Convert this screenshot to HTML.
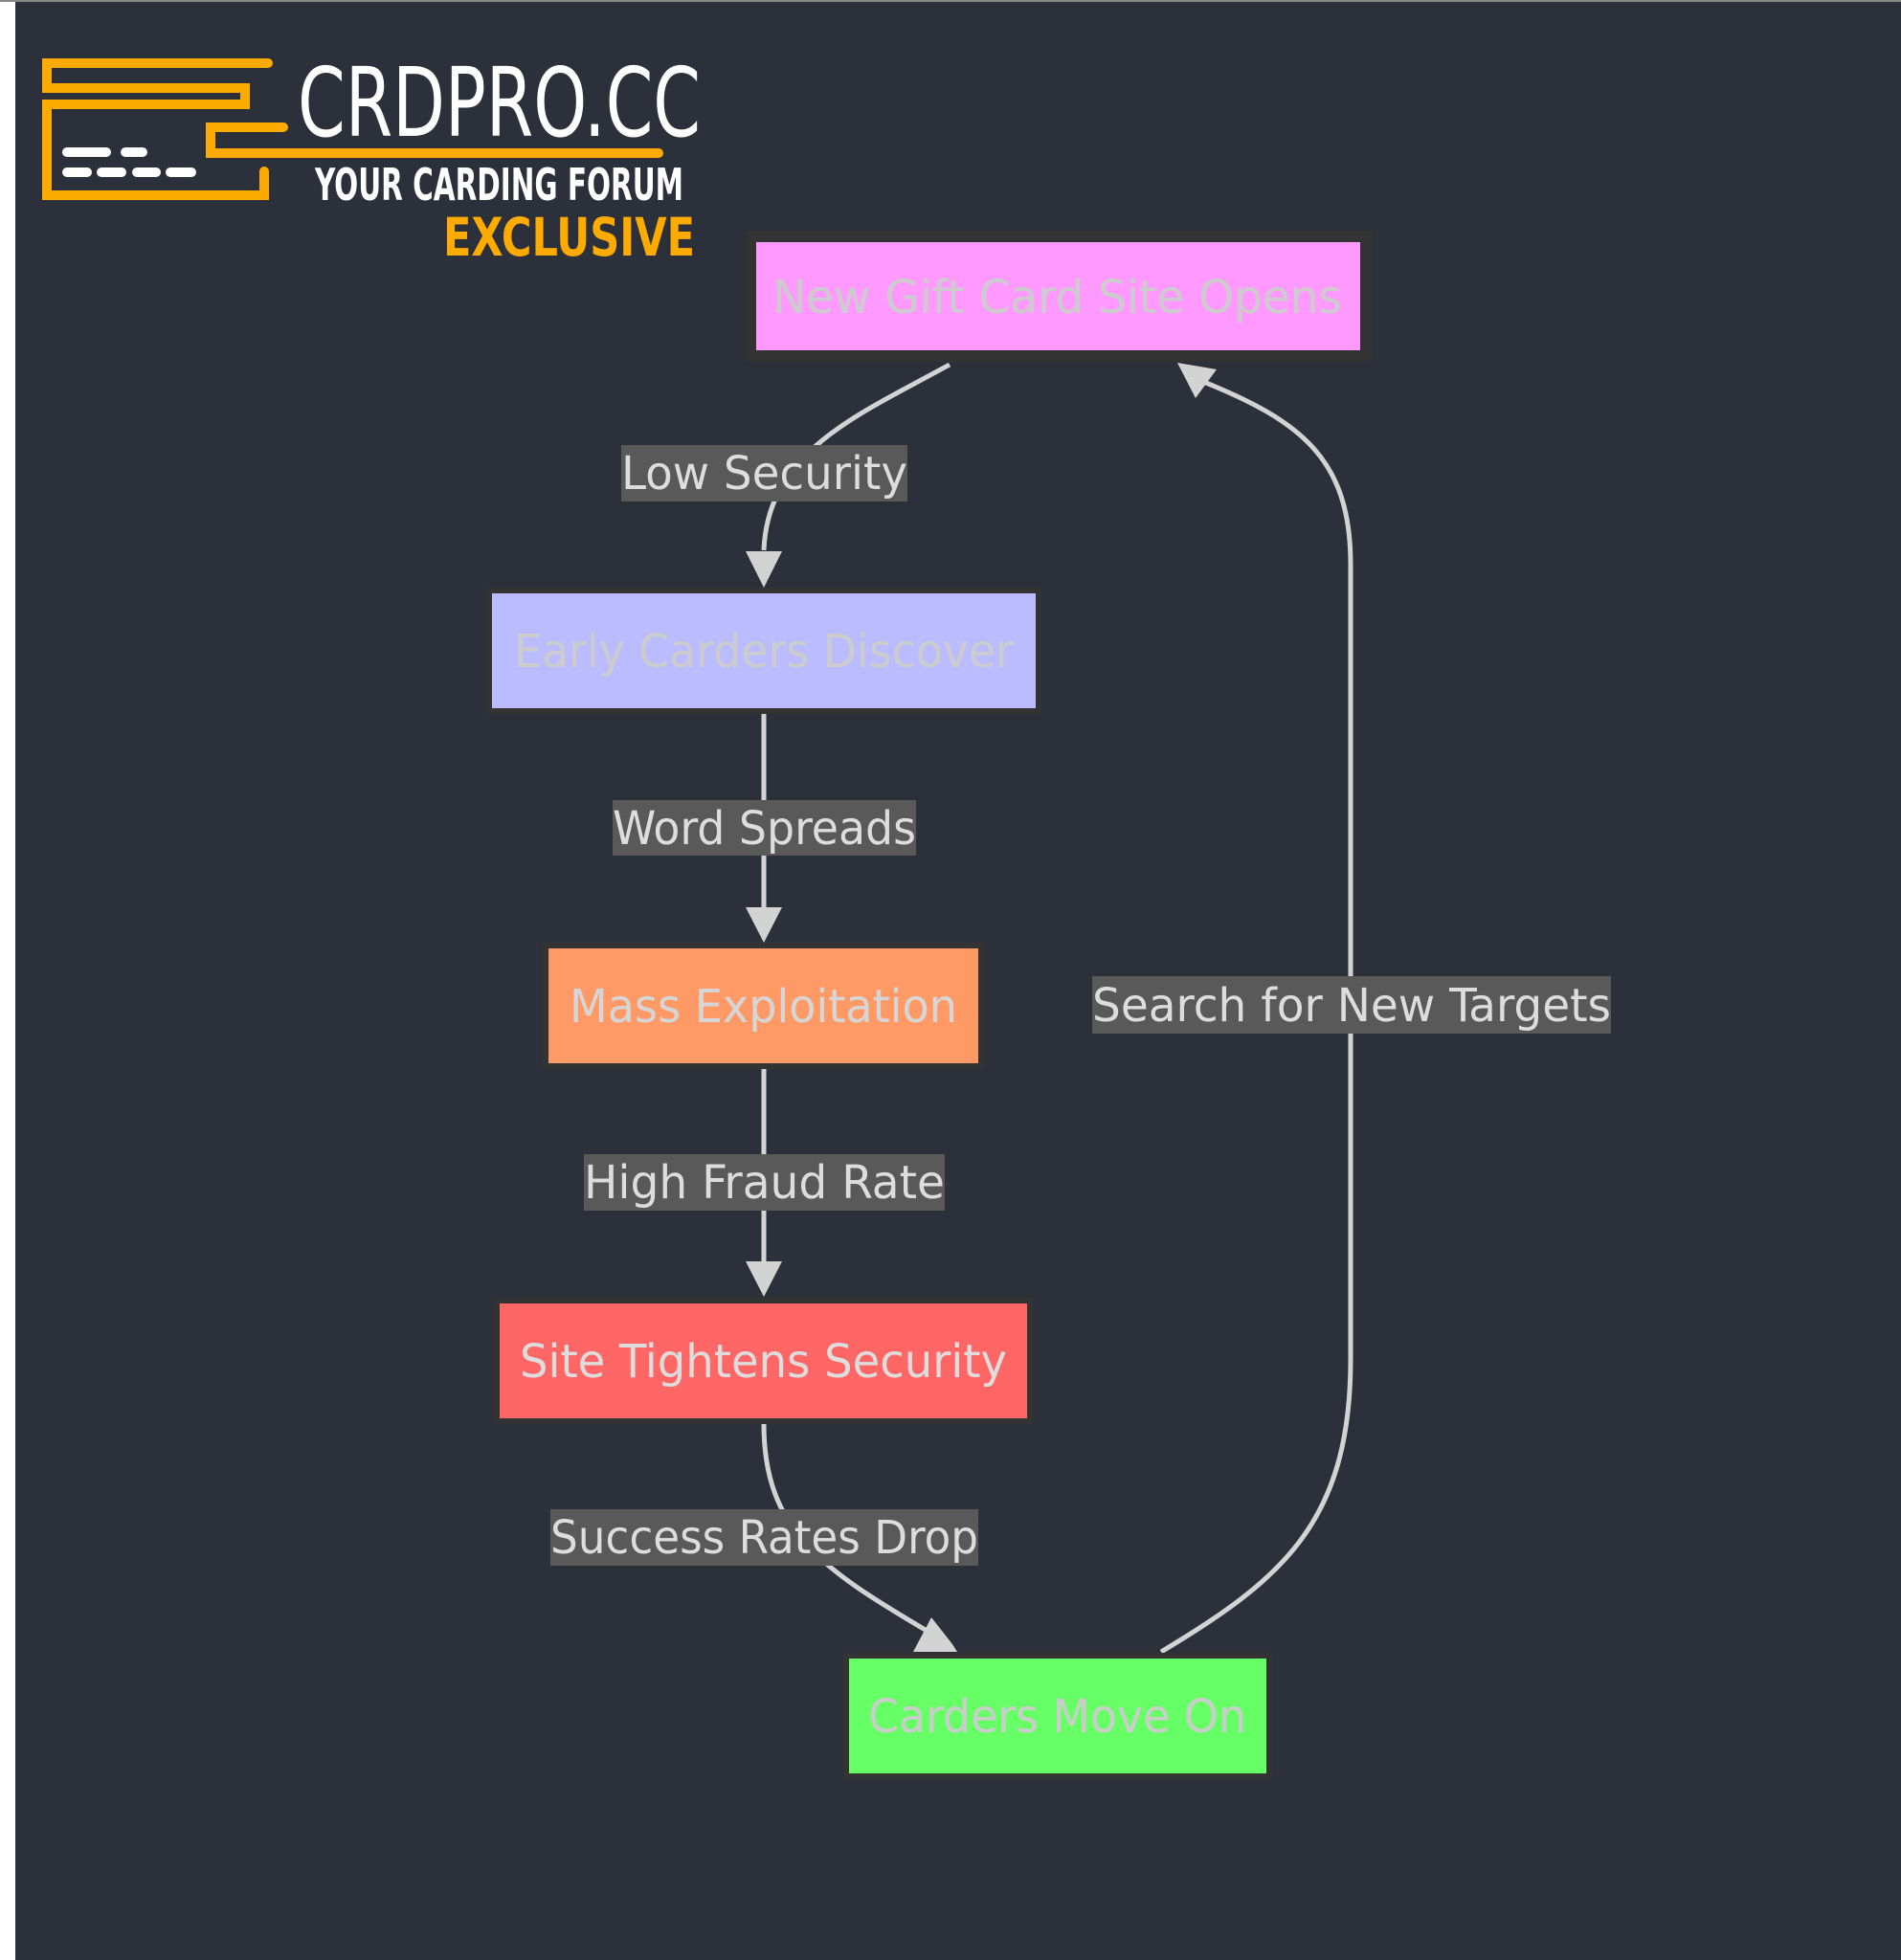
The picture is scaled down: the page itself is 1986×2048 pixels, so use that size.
<!DOCTYPE html>
<html><head><meta charset="utf-8"><style>
html,body{margin:0;padding:0;background:#2b303b;}
svg{display:block}
</style></head><body>
<svg width="1986" height="2048" viewBox="0 0 1986 2048" xmlns="http://www.w3.org/2000/svg">
<rect x="0" y="0" width="1986" height="2048" fill="#2b303b"/>
<rect x="0" y="0" width="16" height="2048" fill="#ffffff"/>
<rect x="0" y="0" width="1986" height="2" fill="#888"/>

<!-- logo -->
<g fill="none" stroke="#fdab00" stroke-width="10" stroke-linecap="round" stroke-linejoin="miter">
<polyline points="280,66 49,66 49,92 256,92 256,109 49,109 49,204 276,204 276,179"/>
<polyline points="296,133 220,133 220,160 688,160"/>
</g>
<g stroke="#ffffff" stroke-width="10" stroke-linecap="round">
<line x1="70" y1="159" x2="111" y2="159"/><line x1="131" y1="159" x2="149" y2="159"/>
<line x1="70" y1="180" x2="91" y2="180"/><line x1="106" y1="180" x2="127" y2="180"/>
<line x1="143" y1="180" x2="163" y2="180"/><line x1="178" y1="180" x2="200" y2="180"/>
</g>
<g font-family="'DejaVu Sans Condensed','DejaVu Sans','Liberation Sans',sans-serif" font-weight="bold">
<text x="311" y="142" font-size="100" font-weight="normal" fill="#ffffff" textLength="421" lengthAdjust="spacingAndGlyphs">CRDPRO.CC</text>
<text x="329" y="209" font-size="46" fill="#ffffff" textLength="385" lengthAdjust="spacingAndGlyphs">YOUR CARDING FORUM</text>
<text x="463" y="267" font-size="55" fill="#fdab00" textLength="263" lengthAdjust="spacingAndGlyphs">EXCLUSIVE</text>
</g>

<!-- edges -->
<g fill="none" stroke="#d3d3d3" stroke-width="5">
<path d="M992,381 C900,432 802,470 798,575"/>
<line x1="798" y1="742" x2="798" y2="950"/>
<line x1="798" y1="1112" x2="798" y2="1320"/>
<path d="M798,1488 C798,1600 860,1640 970,1705"/>
<path d="M1213,1726 C1340,1650 1411,1590 1411,1420 L1411,590 C1411,480 1360,440 1255,398"/>
</g>
<g fill="#d3d3d3">
<polygon points="779,576 817,576 798,614"/>
<polygon points="779,948 817,948 798,985"/>
<polygon points="779,1318 817,1318 798,1355"/>
<polygon points="973,1690 995,1718 1000,1726 954,1726"/>
<polygon points="1230,379 1249,416 1271,386"/>
</g>

<!-- nodes -->
<g stroke="#333333">
<rect x="784" y="247" width="643" height="125" fill="#ff99ff" stroke-width="12"/>
<rect x="511" y="617" width="574" height="126" fill="#bbbbff" stroke-width="6"/>
<rect x="570" y="988" width="455" height="126" fill="#ff9966" stroke-width="6"/>
<rect x="519" y="1359" width="557" height="126" fill="#ff6666" stroke-width="6"/>
<rect x="884" y="1730" width="442" height="126" fill="#66ff66" stroke-width="6"/>
</g>

<!-- edge label bgs -->
<g fill="#595959">
<rect x="649" y="465" width="299" height="59"/>
<rect x="640" y="836" width="317" height="58"/>
<rect x="610" y="1206" width="377" height="59"/>
<rect x="575" y="1577" width="447" height="59"/>
<rect x="1141" y="1020" width="542" height="60"/>
</g>

<g font-family="'DejaVu Sans Condensed','DejaVu Sans','Liberation Sans',sans-serif" font-size="48" lengthAdjust="spacingAndGlyphs">
<text x="807" y="327" fill="#cccccc" textLength="595" lengthAdjust="spacingAndGlyphs">New Gift Card Site Opens</text>
<text x="537" y="697" fill="#cccccc" textLength="522" lengthAdjust="spacingAndGlyphs">Early Carders Discover</text>
<text x="595" y="1068" fill="#d6d6d6" textLength="405" lengthAdjust="spacingAndGlyphs">Mass Exploitation</text>
<text x="543" y="1439" fill="#dddddd" textLength="509" lengthAdjust="spacingAndGlyphs">Site Tightens Security</text>
<text x="907" y="1810" fill="#cccccc" textLength="395" lengthAdjust="spacingAndGlyphs">Carders Move On</text>

<text x="649" y="511" fill="#dddddd" textLength="299" lengthAdjust="spacingAndGlyphs">Low Security</text>
<text x="640" y="882" fill="#dddddd" textLength="317" lengthAdjust="spacingAndGlyphs">Word Spreads</text>
<text x="610" y="1252" fill="#dddddd" textLength="377" lengthAdjust="spacingAndGlyphs">High Fraud Rate</text>
<text x="575" y="1623" fill="#dddddd" textLength="447" lengthAdjust="spacingAndGlyphs">Success Rates Drop</text>
<text x="1141" y="1067" fill="#dddddd" textLength="542" lengthAdjust="spacingAndGlyphs">Search for New Targets</text>
</g>
</svg>
</body></html>
